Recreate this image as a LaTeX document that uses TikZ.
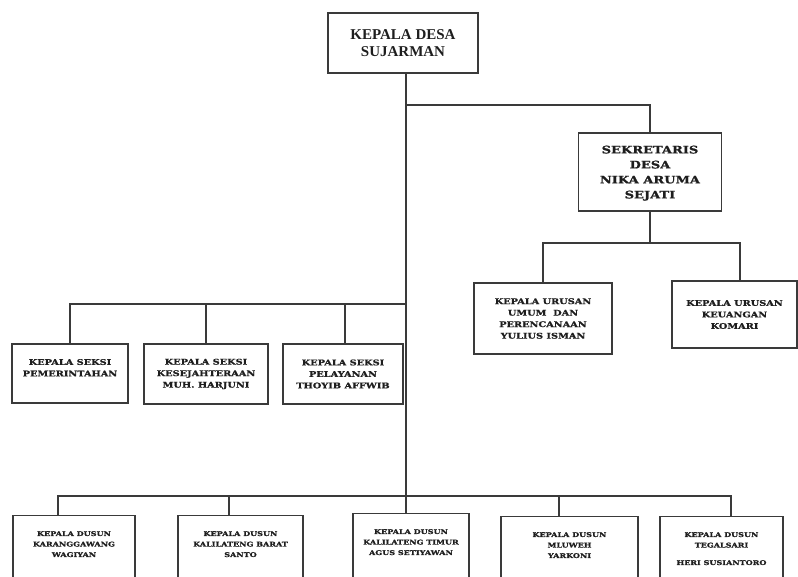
\documentclass[tikz,border=0pt]{standalone}
\usepackage{fontspec}
\usetikzlibrary{positioning,calc}
\newfontfamily\headfont{Liberation Serif}
\newfontfamily\boxfont[FakeStretch=1.25,FakeBold=1.2]{DejaVu Serif}
\definecolor{LineGray}{RGB}{58,58,58}
\definecolor{InkGray}{RGB}{30,30,30}

\begin{document}
\begin{tikzpicture}[x=1pt,y=-1pt,
  b/.style={draw=LineGray,line width=1.4pt,rectangle,inner xsep=0pt,inner ysep=0pt,align=center,text=InkGray},
  lead/.style={b,font=\headfont\bfseries\fontsize{15}{17}\selectfont},
  sek/.style={b,font=\boxfont\bfseries\fontsize{10.4}{15}\selectfont},
  kaur/.style={b,font=\boxfont\bfseries\fontsize{7.8}{11.5}\selectfont},
  dus/.style={b,anchor=north,inner ysep=15.5pt,text depth=60pt,font=\boxfont\bfseries\fontsize{6.45}{10.5}\selectfont},
  ln/.style={draw=LineGray,line width=1.4pt}
]
  \useasboundingbox (0,0) rectangle (798,577);
  \clip (0,0) rectangle (798,577);
  % kepala desa dan sekretaris
  \node[lead,minimum width=150pt,minimum height=60pt] (kades) at (403,43) {KEPALA DESA\\SUJARMAN};
  \node[sek,minimum width=143pt,minimum height=78pt] (sekdes) at (650,172) {\mbox{}\\[-5pt]SEKRETARIS\\DESA\\NIKA ARUMA\\SEJATI};
  \node[kaur,minimum width=138pt,minimum height=71pt] (kaurum) at (543,318.5) {KEPALA URUSAN\\UMUM\ \ DAN\\PERENCANAAN\\YULIUS ISMAN};
  \node[kaur,minimum width=125pt,minimum height=67pt] (kaurkeu) at (734.5,314.5) {KEPALA URUSAN\\KEUANGAN\\KOMARI};
  % kepala seksi
  \node[kaur,minimum width=116pt,minimum height=59pt] (kasipem) at (70,373.5) {KEPALA SEKSI\\PEMERINTAHAN\\ \mbox{}};
  \node[kaur,minimum width=124pt,minimum height=60pt] (kasikesra) at (206,374) {KEPALA SEKSI\\KESEJAHTERAAN\\MUH. HARJUNI};
  \node[kaur,minimum width=120pt,minimum height=60pt] (kasipel) at (343,374) {KEPALA SEKSI\\PELAYANAN\\THOYIB AFFWIB};
  % kepala dusun
  \node[dus,minimum width=122pt] (kadus1) at (74,515) {KEPALA DUSUN\\KARANGGAWANG\\WAGIYAN};
  \node[dus,minimum width=125pt] (kadus2) at (240.5,515) {KEPALA DUSUN\\KALILATENG BARAT\\SANTO};
  \node[dus,minimum width=116pt] (kadus3) at (411,513) {KEPALA DUSUN\\KALILATENG TIMUR\\AGUS SETIYAWAN};
  \node[dus,minimum width=137pt] (kadus4) at (569.5,516) {KEPALA DUSUN\\MLUWEH\\YARKONI};
  \node[dus,minimum width=123pt] (kadus5) at (721.5,516) {KEPALA DUSUN\\TEGALSARI\\[7pt]HERI SUSIANTORO};

  \coordinate (jsek) at (406,105);
  \coordinate (jkaur) at (650,243);
  \coordinate (jseksi) at (406,304);
  \coordinate (jdus) at (406,496);
  % garis
  \draw[ln] (kades.south -| jsek) -- (jdus);
  \draw[ln] (jsek) -| (sekdes.north);
  \draw[ln] (sekdes.south) -- (jkaur);
  \draw[ln] (kaurum.north) |- (jkaur) -| ([xshift=5.5pt]kaurkeu.north);
  \draw[ln] (kasipem.north) |- (jseksi);
  \draw[ln] (kasikesra.north) -- (kasikesra.north |- jseksi);
  \draw[ln] ([xshift=2pt]kasipel.north) -- ([xshift=2pt]kasipel.north |- jseksi);
  \draw[ln] ([xshift=-16pt]kadus1.north) |- (jdus) -| ([xshift=9.5pt]kadus5.north);
  \draw[ln] ([xshift=-11.5pt]kadus2.north) -- ([xshift=-11.5pt]kadus2.north |- jdus);
  \draw[ln] (jdus) -- (jdus |- kadus3.north);
  \draw[ln] ([xshift=-10.5pt]kadus4.north) -- ([xshift=-10.5pt]kadus4.north |- jdus);
\end{tikzpicture}
\end{document}
